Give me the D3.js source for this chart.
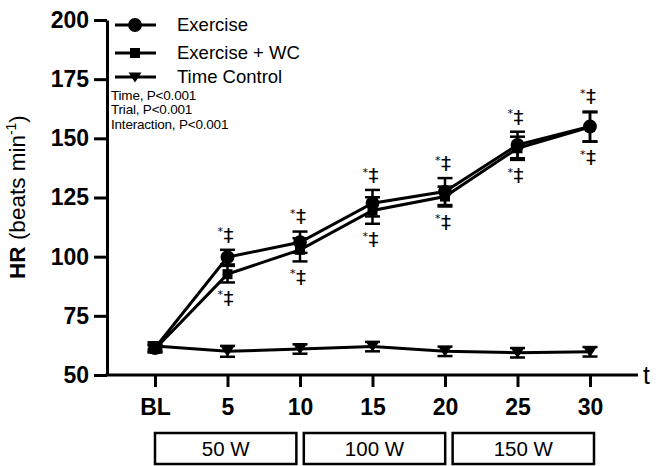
<!DOCTYPE html>
<html lang="en">
<head>
<meta charset="UTF-8">
<title>HR during exercise</title>
<script src="https://d3js.org/d3.v7.min.js"></script>
<style>
  body { margin: 0; background: #fff; }
  svg { font-family: "Liberation Sans", Arial, sans-serif; }
  .ax line, .ax path { stroke: #000; }
</style>
</head>
<body>
<svg width="657" height="466"></svg>
<script>
const times = [0, 5, 10, 15, 20, 25, 30];
const timeLabels = ["BL", "5", "10", "15", "20", "25", "30"];
const yTicks = [50, 75, 100, 125, 150, 175, 200];

const exerciseHR = [61.4, 99.8, 106.1, 122.6, 127.5, 147.2, 155.0];
const exerciseSE = [1.5, 3.1, 4.5, 5.6, 5.7, 5.6, 6.3];
const wcHR = [61.0, 92.6, 102.9, 119.5, 125.4, 145.8, 154.8];
const wcSE = [1.5, 3.5, 4.9, 5.6, 4.2, 4.9, 6.2];
const controlHR = [62.3, 60.0, 61.0, 62.0, 60.0, 59.4, 59.8];
const controlSE = [1.5, 2.3, 2.0, 2.0, 2.0, 2.0, 2.0];

const seriesNames = ["Exercise", "Exercise + WC", "Time Control"];
const stages = ["50 W", "100 W", "150 W"];
const sigTimes = [5, 10, 15, 20, 25, 30];
const statsLines = ["Time, P<0.001", "Trial, P<0.001", "Interaction, P<0.001"];

const svg = d3.select("svg");

const x = d3.scaleLinear().domain([0, 30]).range([155, 590]);
const y = d3.scaleLinear().domain([50, 200]).range([375, 20]);
const axisX = 107, axisEnd = 638;

// marker shapes
const circle = d3.symbol().type(d3.symbolCircle).size(150)();
const square = d3.symbol().type(d3.symbolSquare).size(100)();
const triDown = "M-6.5,-4.5L6.5,-4.5L0,5.5Z";

const series = [
  { name: seriesNames[0], mean: exerciseHR, se: exerciseSE, marker: circle },
  { name: seriesNames[1], mean: wcHR, se: wcSE, marker: square },
  { name: seriesNames[2], mean: controlHR, se: controlSE, marker: triDown }
];

// Y axis
const yAxis = svg.append("g").attr("class", "ax")
  .attr("transform", `translate(${axisX},0)`)
  .call(d3.axisLeft(y).tickValues(yTicks).tickSize(13).tickPadding(5).tickSizeOuter(0));
yAxis.select(".domain").attr("stroke-width", 3);
yAxis.selectAll(".tick line").attr("stroke-width", 3);
yAxis.selectAll("text").attr("font-size", 23).attr("font-weight", "bold")
  .attr("font-family", "Liberation Sans, Arial, sans-serif").attr("fill", "#000");

// X axis
const xAxis = svg.append("g").attr("class", "ax")
  .attr("transform", `translate(0,${y(50)})`)
  .call(d3.axisBottom(x).tickValues(times).tickFormat((d, i) => timeLabels[i])
    .tickSize(12).tickPadding(12).tickSizeOuter(0));
xAxis.select(".domain").remove();
xAxis.append("line").attr("x1", axisX - 1.5).attr("x2", axisEnd)
  .attr("stroke", "#000").attr("stroke-width", 3);
xAxis.selectAll(".tick line").attr("stroke-width", 3);
xAxis.selectAll("text").attr("font-size", 23).attr("font-weight", "bold")
  .attr("font-family", "Liberation Sans, Arial, sans-serif").attr("fill", "#000");

svg.append("text").attr("x", axisEnd + 5).attr("y", y(50) + 9)
  .attr("font-size", 25).text("t");

// Y label
const yl = svg.append("text")
  .attr("transform", `translate(25,${197}) rotate(-90)`)
  .attr("text-anchor", "middle").attr("font-size", 22.5);
yl.append("tspan").attr("font-weight", "bold").text("HR");
yl.append("tspan").text(" (beats min");
yl.append("tspan").attr("font-size", 14).attr("dy", -9).text("-1");
yl.append("tspan").attr("dy", 9).text(")");

// lines
const line = d3.line().x((d, i) => x(times[i])).y(d => y(d));
series.forEach(s => {
  svg.append("path").datum(s.mean).attr("d", line)
    .attr("fill", "none").attr("stroke", "#000").attr("stroke-width", 3);
});

// error bars
series.forEach(s => {
  const g = svg.append("g");
  times.forEach((t, i) => {
    const lo = y(s.mean[i] - s.se[i]), hi = y(s.mean[i] + s.se[i]);
    g.append("line").attr("x1", x(t)).attr("x2", x(t)).attr("y1", lo).attr("y2", hi)
      .attr("stroke", "#000").attr("stroke-width", 2.5);
    [lo, hi].forEach(v => g.append("line").attr("x1", x(t) - 7.5).attr("x2", x(t) + 7.5)
      .attr("y1", v).attr("y2", v).attr("stroke", "#000").attr("stroke-width", 2.5));
  });
});

// markers
series.forEach(s => {
  svg.append("g").selectAll("path").data(s.mean).join("path")
    .attr("d", s.marker)
    .attr("transform", (d, i) => `translate(${x(times[i])},${y(d)})`)
    .attr("fill", "#000");
});

// significance marks: "*" small, top-left of a double dagger
function sig(tx, edge, above) {
  const dag = svg.append("text").attr("x", tx + 1).attr("y", 0)
    .attr("text-anchor", "middle").attr("font-size", 20).attr("fill", "#000")
    .attr("font-family", "DejaVu Sans, sans-serif").text("\u2021");
  const b = dag.node().getBBox();
  // visible glyph is roughly the middle 70% of the em box
  const gTop = b.y + b.height * 0.2, gBot = b.y + b.height * 0.88;
  const dy = above ? (edge - 6) - gBot : (edge + 8) - gTop;
  dag.attr("y", dy);
  svg.append("text").attr("x", tx - 4.5).attr("y", gTop + dy + 8)
    .attr("text-anchor", "end").attr("font-size", 11).attr("fill", "#000")
    .attr("font-family", "DejaVu Sans, sans-serif").text("*");
}
sigTimes.forEach(t => {
  const i = times.indexOf(t);
  const top = Math.max(exerciseHR[i] + exerciseSE[i], wcHR[i] + wcSE[i]);
  const bot = Math.min(exerciseHR[i] - exerciseSE[i], wcHR[i] - wcSE[i]);
  sig(x(t), y(top), true);
  sig(x(t), y(bot), false);
});

// legend
const legend = svg.append("g").attr("transform", "translate(115,0)");
series.forEach((s, k) => {
  const ly = [25, 53, 77][k];
  legend.append("line").attr("x1", 0).attr("x2", 41).attr("y1", ly).attr("y2", ly)
    .attr("stroke", "#000").attr("stroke-width", 3);
  legend.append("path").attr("d", s.marker).attr("transform", `translate(20,${ly})`);
  legend.append("text").attr("x", 62).attr("y", ly + 6).attr("font-size", 18.5).text(s.name);
});

// stats
svg.append("g").selectAll("text").data(statsLines).join("text")
  .attr("x", 111).attr("y", (d, i) => 99.5 + i * 14.5)
  .attr("font-size", 13.5).attr("letter-spacing", -0.2).text(d => d);

// stage boxes
const band = d3.scaleBand().domain(stages).range([x(0), x(30) + 4]).paddingInner(0.05);
const bg = svg.append("g").selectAll("g").data(stages).join("g")
  .attr("transform", d => `translate(${band(d)},433)`);
bg.append("rect").attr("width", band.bandwidth()).attr("height", 31)
  .attr("fill", "#fff").attr("stroke", "#000").attr("stroke-width", 2.5);
bg.append("text").attr("x", band.bandwidth() / 2).attr("y", 23)
  .attr("text-anchor", "middle").attr("font-size", 20.5).text(d => d);
</script>
</body>
</html>
